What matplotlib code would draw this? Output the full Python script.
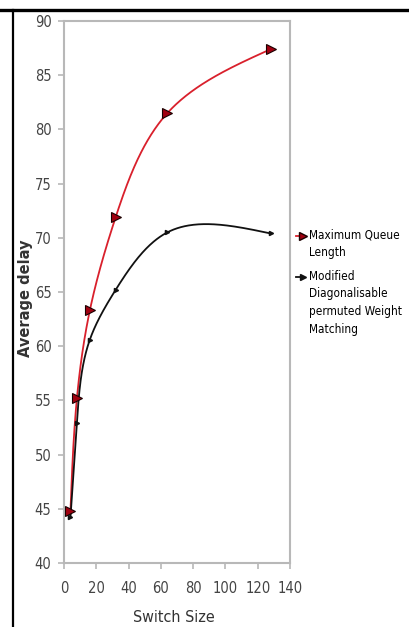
import numpy as np
import matplotlib
matplotlib.use("Agg")
import matplotlib.pyplot as plt
from matplotlib.lines import Line2D
from matplotlib import font_manager
from matplotlib.font_manager import FontProperties

switch_size = [4, 8, 16, 32, 64, 128]
max_queue = [44.8, 55.2, 63.3, 71.9, 81.5, 87.4]
mdpwm = [44.2, 52.9, 60.6, 65.2, 70.5, 70.4]
series_names = ["Maximum Queue\nLength", "Modified\nDiagonalisable\npermuted Weight\nMatching"]
xticks = [0, 20, 40, 60, 80, 100, 120, 140]
yticks = [40, 45, 50, 55, 60, 65, 70, 75, 80, 85, 90]

# find a narrow/condensed regular font if available
narrow = None
cands = []
for f in font_manager.fontManager.ttflist:
    fn = f.fname.lower()
    if ('narrow' in fn or 'condensed' in fn) and 'bold' not in fn and 'italic' not in fn and 'oblique' not in fn:
        cands.append(f)
cands.sort(key=lambda f: (0 if 'liberation' in f.fname.lower() else 1 if 'dejavusans' in f.fname.lower() else 2, len(f.fname)))
if cands:
    narrow = cands[0].fname


def fp(size):
    if narrow:
        return FontProperties(fname=narrow, size=size)
    return FontProperties(family='DejaVu Sans', size=size)


def natural(t, v):
    k = len(t); h = np.diff(t)
    A = np.zeros((k, k)); b = np.zeros(k)
    A[0, 0] = A[-1, -1] = 1
    for i in range(1, k - 1):
        A[i, i - 1] = h[i - 1]; A[i, i] = 2 * (h[i - 1] + h[i]); A[i, i + 1] = h[i]
        b[i] = 6 * ((v[i + 1] - v[i]) / h[i] - (v[i] - v[i - 1]) / h[i - 1])
    return np.linalg.solve(A, b)


def evalspline(t, v, M, ts):
    k = len(t); h = np.diff(t); out = np.empty_like(ts)
    for j, s in enumerate(ts):
        i = min(max(np.searchsorted(t, s, side='right') - 1, 0), k - 2)
        a = t[i + 1] - s; c = s - t[i]
        out[j] = (M[i] * a**3 + M[i + 1] * c**3) / (6 * h[i]) + (v[i] / h[i] - M[i] * h[i] / 6) * a + (v[i + 1] / h[i] - M[i + 1] * h[i] / 6) * c
    return out


def param_spline(x, y, n=400):
    # parametric cubic spline (chord length in display proportions)
    x = np.asarray(x, float); y = np.asarray(y, float)
    px = x / 140 * 226; py = (y - 40) / 50 * 542
    d = np.hypot(np.diff(px), np.diff(py))
    t = np.concatenate([[0], np.cumsum(d)])
    ts = np.linspace(0, t[-1], n)
    xs = evalspline(t, x, natural(t, x), ts)
    ys = evalspline(t, y, natural(t, y), ts)
    return xs, ys


W, H = 409, 627
fig = plt.figure(figsize=(W / 100, H / 100), dpi=100)
ax = fig.add_axes([64 / W, 1 - 563 / H, 226 / W, 542 / H])

red_line, red_face, red_edge = '#d9202c', '#a00010', '#1a0000'
blk = '#111111'

xs, ys = param_spline(switch_size, max_queue)
ax.plot(xs, ys, color=red_line, lw=1.3, zorder=3)
ax.plot(switch_size, max_queue, ls='none', marker='>', ms=7, mfc=red_face, mec=red_edge, mew=0.8, zorder=4)
xs2, ys2 = param_spline(switch_size, mdpwm)
ax.plot(xs2, ys2, color=blk, lw=1.3, zorder=3)
ax.plot(switch_size, mdpwm, ls='none', marker='>', ms=3, mfc=blk, mec=blk, zorder=4)

ax.set_xlim(0, 140); ax.set_ylim(40, 90)
ax.set_xticks(xticks); ax.set_yticks(yticks)
for s in ax.spines.values():
    s.set_color('#b8b8b8'); s.set_linewidth(1.5)
ax.tick_params(colors='#b8b8b8', labelcolor='#444444', length=4, width=1.2)
ax.tick_params(axis='x', pad=9)
ax.tick_params(axis='y', pad=5)
ax.set_xticklabels([str(v) for v in xticks], fontproperties=fp(10.5))
ax.set_yticklabels([str(v) for v in yticks], fontproperties=fp(10.5))
ax.set_xlabel('Switch Size', fontproperties=fp(11.5), color='#333333')
ax.xaxis.set_label_coords(0.485, -(47) / 542, transform=ax.transAxes)
ax.set_ylabel('Average delay', fontsize=10.5, color='#333333', fontweight='bold', family='DejaVu Sans')
ax.yaxis.set_label_coords((33 - 64) / 226, (563 - 298) / 542)

# legend drawn manually: handle aligned with first text line
def fx(px):
    return px / W


def fy(py):
    return 1 - py / H


leg_font = fp(8.5)
tops = [229, 270]
handles = [
    dict(color=red_line, mfc=red_face, mec=red_edge, ms=6),
    dict(color=blk, mfc=blk, mec=blk, ms=4),
]
for top, name, hd in zip(tops, series_names, handles):
    yc = top + 7
    fig.add_artist(Line2D([fx(296), fx(303)], [fy(yc), fy(yc)], transform=fig.transFigure,
                          color=hd['color'], lw=1.3))
    fig.add_artist(Line2D([fx(303)], [fy(yc)], transform=fig.transFigure, ls='none', marker='>',
                          ms=hd['ms'], mfc=hd['mfc'], mec=hd['mec']))
    fig.text(fx(309), fy(top), name, fontproperties=leg_font, color='black', va='top', ha='left',
             linespacing=1.45)

fig.add_artist(Line2D([0, 1], [1 - 9.5 / H, 1 - 9.5 / H], transform=fig.transFigure, color='black', lw=2.4))
fig.add_artist(Line2D([13 / W, 13 / W], [0, 1 - 9.5 / H], transform=fig.transFigure, color='black', lw=1.6))

fig.savefig('out.png', dpi=100)
